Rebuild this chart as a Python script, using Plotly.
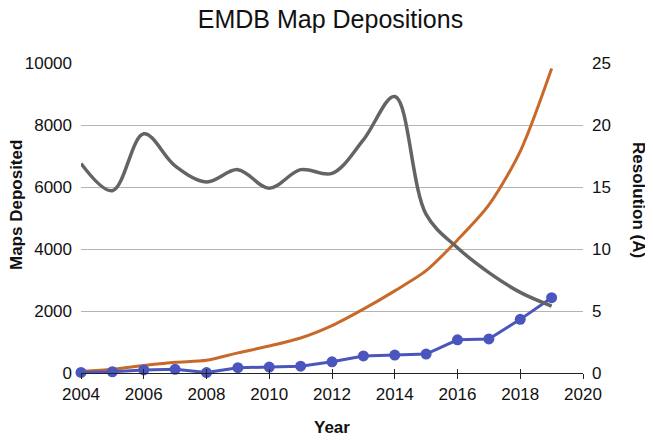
import plotly.graph_objects as go

years = list(range(2004, 2020))
yearly_maps = [20, 40, 100, 120, 15, 170, 190, 220, 360, 550, 580, 610, 1070, 1100, 1730, 2430]
cumulative_maps = [50, 120, 240, 345, 410, 650, 870, 1130, 1530, 2060, 2650, 3300, 4290, 5420, 7150, 9820]
resolution = [16.9, 14.7, 19.3, 16.7, 15.4, 16.4, 14.9, 16.4, 16.1, 18.8, 22.3, 12.8, 10.1, 8.1, 6.5, 5.4]

x_ticks = list(range(2004, 2021, 2))
left_ticks = [0, 2000, 4000, 6000, 8000, 10000]
left_tick_text = [str(v) for v in left_ticks]
right_ticks = [0, 5, 10, 15, 20, 25]

FONT = "Liberation Sans, Arial, Helvetica, sans-serif"

fig = go.Figure()
fig.add_trace(go.Scatter(x=years, y=cumulative_maps, mode="lines",
                         line=dict(color="#C8692A", width=3, shape="spline", smoothing=0.8),
                         cliponaxis=False, showlegend=False))
fig.add_trace(go.Scatter(x=years, y=yearly_maps, mode="lines+markers",
                         line=dict(color="#4A56BE", width=3),
                         marker=dict(color="#4A56BE", size=11),
                         cliponaxis=False, showlegend=False))
fig.add_trace(go.Scatter(x=years, y=resolution, mode="lines", yaxis="y2",
                         line=dict(color="#646464", width=3.5, shape="spline", smoothing=1.0),
                         cliponaxis=False, showlegend=False))
# empty trace on an overlay axis that carries the inner half of the crossing ticks
fig.add_trace(go.Scatter(x=[2004, 2020], y=[None, None], xaxis="x2", yaxis="y2",
                         mode="lines", showlegend=False, hoverinfo="skip"))

fig.update_layout(
    width=645, height=432,
    margin=dict(l=73, r=70, t=55, b=67),
    paper_bgcolor="white", plot_bgcolor="rgba(0,0,0,0)",
    font=dict(family=FONT, size=17, color="#111"),
    title=dict(text="EMDB Map Depositions", x=0.5, xanchor="center", y=0.975, yanchor="middle",
               font=dict(size=25, family=FONT, color="#111")),
    xaxis=dict(range=[2004, 2020], tickvals=x_ticks, ticks="outside", ticklen=5, tickwidth=1.3,
               tickcolor="#222", showline=True, linecolor="#222", linewidth=1.3,
               showgrid=False, zeroline=False, tickfont=dict(size=17), automargin=False),
    xaxis2=dict(range=[2004, 2020], tickvals=x_ticks, ticks="inside", ticklen=4, tickwidth=1.3,
                tickcolor="#222", showticklabels=False, overlaying="x", side="bottom",
                anchor="y2", showgrid=False, zeroline=False, showline=False, automargin=False),
    yaxis=dict(range=[0, 10000], tickvals=left_ticks, ticktext=left_tick_text, showgrid=True,
               gridcolor="#B4B4B4", gridwidth=1.2, zeroline=False, showline=False, ticks="",
               tickfont=dict(size=17), ticklabelstandoff=8, automargin=False),
    yaxis2=dict(range=[0, 25], tickvals=right_ticks, overlaying="y", side="right",
                showgrid=False, zeroline=False, showline=False, ticks="",
                tickfont=dict(size=17), ticklabelstandoff=8, automargin=False),
    annotations=[
        dict(text="<b>Resolution (Å)</b>", textangle=90, xref="paper", yref="paper",
             x=1.0, xshift=56, y=0.5, yshift=18, showarrow=False, xanchor="center", yanchor="middle",
             font=dict(size=17, family=FONT, color="#111")),
        dict(text="<b>Maps Deposited</b>", textangle=-90, xref="paper", yref="paper",
             x=0.0, xshift=-65, y=0.5, yshift=13, showarrow=False, xanchor="center", yanchor="middle",
             font=dict(size=17, family=FONT, color="#111")),
        dict(text="<b>Year</b>", xref="paper", yref="paper",
             x=0.5, y=0.0, yshift=-54, showarrow=False, xanchor="center", yanchor="middle",
             font=dict(size=17, family=FONT, color="#111")),
    ],
)

fig.write_html("out.html")
